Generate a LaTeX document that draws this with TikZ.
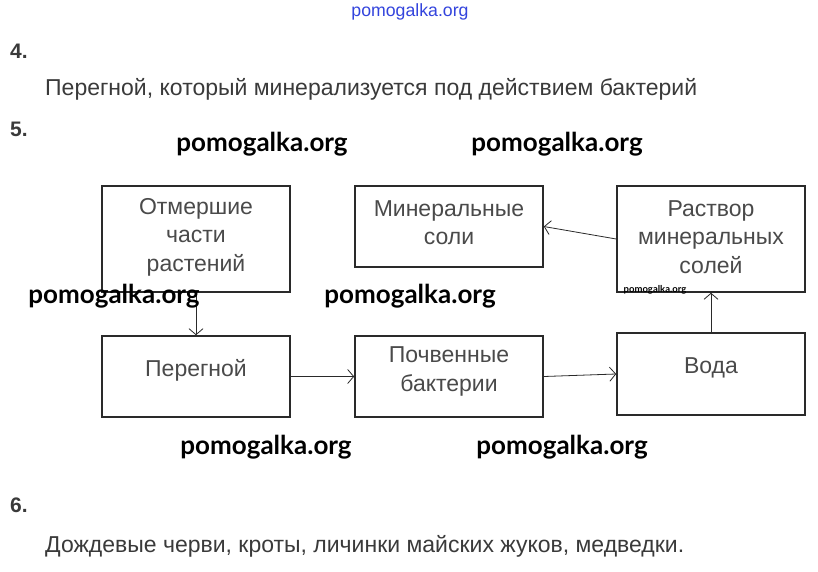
\documentclass[tikz,border=0pt]{standalone}
\usepackage{fontspec}
\setmainfont{Liberation Sans}
\newfontfamily\wmfont{Lato}
\usetikzlibrary{arrows.meta}
\definecolor{txtgray}{HTML}{3A3A3A}
\definecolor{boxtxt}{HTML}{4A4A4A}
\definecolor{boxgray}{HTML}{2A2A2A}
\definecolor{wmblue}{HTML}{3344DD}
\tikzset{
  box/.style={draw=boxgray, line width=1.6pt, inner sep=0pt, minimum width=188pt},
  boxtext/.style={text=boxtxt, align=center, font=\fontsize{23}{28.5}\selectfont, inner sep=0pt},
  arr/.style={draw=boxgray, line width=0.8pt, -{Straight Barb[length=6pt,width=14pt,line width=0.8pt]}},
  head/.style={anchor=west, text=txtgray, font=\bfseries\fontsize{21}{24}\selectfont, inner sep=0pt},
  para/.style={anchor=west, text=txtgray, font=\fontsize{23}{26}\selectfont, inner sep=0pt},
  wm/.style={font=\wmfont\bfseries\fontsize{26}{29}\selectfont, text=black, inner sep=0pt},
  wmsmall/.style={font=\wmfont\bfseries\fontsize{9.5}{11}\selectfont, text=black, inner sep=0pt},
  wmtop/.style={font=\fontsize{17.7}{19}\selectfont, text=wmblue, inner sep=0pt}
}
\begin{document}
\begin{tikzpicture}[x=1pt,y=-1pt]
\fill[white] (0,0) rectangle (818,572);
\useasboundingbox (0,0) rectangle (818,572);

\node[wmtop] (wtop) at (410,12) {pomogalka.org};

\node[head] (h4) at (10,51) {4.};
\node[para] (p4) at (45,89) {Перегной, который минерализуется под действием бактерий};
\node[head] (h5) at (10,129) {5.};
\node[head] (h6) at (10,505) {6.};
\node[para] (p6) at (45,546) {Дождевые черви, кроты, личинки майских жуков, медведки.};

% boxes
\node[box, minimum height=106pt, label={[boxtext, yshift=2pt]center:Отмершие\\части\\растений}] (otm) at (196,239) {};
\node[box, minimum height=81pt, label={[boxtext, yshift=4pt]center:Минеральные\\соли}] (min) at (449,226.5) {};
\node[box, minimum height=106pt, label={[boxtext, yshift=2pt]center:Раствор\\минеральных\\солей}] (rast) at (711,239) {};
\node[box, minimum height=81pt, label={[boxtext, yshift=6pt]center:Перегной}] (per) at (196,376.5) {};
\node[box, minimum height=81pt, label={[boxtext, yshift=5pt]center:Почвенные\\бактерии}] (poch) at (449,376.5) {};
\node[box, minimum height=82pt, label={[boxtext, yshift=6pt]center:Вода}] (voda) at (711,374) {};

% connectors
\draw[arr] (otm.south) -- (per.north);
\draw[arr] (per.east) -- (poch.west);
\draw[arr] (poch.east) -- (voda.west);
\draw[arr] (voda.north) -- (rast.south);
\draw[arr] (rast.west) -- (min.east);

% watermarks
\node[wm] (w1) at (262,144) {pomogalka.org};
\node[wm] (w2) at (557,144) {pomogalka.org};
\node[wm] (w3) at (114,296) {pomogalka.org};
\node[wm] (w4) at (410,296) {pomogalka.org};
\node[wm] (w5) at (266,447) {pomogalka.org};
\node[wm] (w6) at (562,447) {pomogalka.org};
\node[wmsmall] (w7) at (655,290) {pomogalka.org};
\end{tikzpicture}
\end{document}
